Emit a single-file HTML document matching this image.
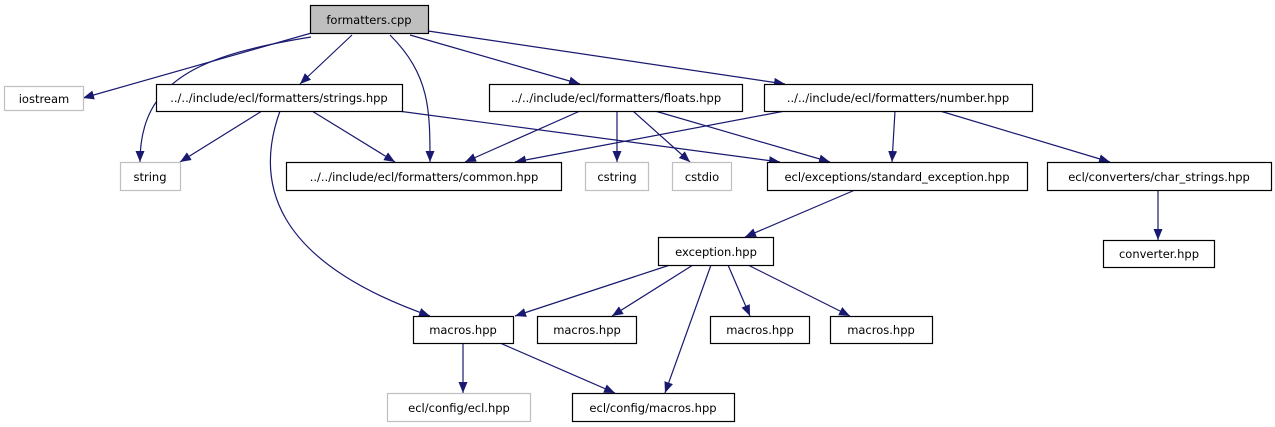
<!DOCTYPE html>
<html><head><meta charset="utf-8"><style>
html,body{margin:0;padding:0;background:#fff;}
svg{display:block;}
text{font-family:"DejaVu Sans","Liberation Sans",sans-serif;font-size:11.5px;fill:#000;text-anchor:middle;}
</style></head><body>
<svg width="1275" height="427" viewBox="0 0 1275 427" xmlns="http://www.w3.org/2000/svg">
<defs>
<marker id="a" markerUnits="userSpaceOnUse" markerWidth="12" markerHeight="10" refX="11" refY="5" orient="auto">
<path d="M0,0.5 L11,5 L0,9.5 z" fill="#191970"/>
</marker>
</defs>
<g stroke="#191970" stroke-width="1.2" fill="none" marker-end="url(#a)">
<path d="M315,32 L83,98"/>
<path d="M311,37 C200,55 140,80 140,162"/>
<path d="M352,35 L300,84"/>
<path d="M390,35 C430,75 430,110 430,162"/>
<path d="M410,35 L580,84"/>
<path d="M428,31 L785,84"/>
<path d="M262,111 L180,162"/>
<path d="M312,111 L395,162"/>
<path d="M280,111 C255,180 270,260 430,316"/>
<path d="M398,111 L780,162"/>
<path d="M580,111 L465,162"/>
<path d="M617,111 L617,162"/>
<path d="M633,111 L690,162"/>
<path d="M655,111 L830,162"/>
<path d="M785,111 L515,162"/>
<path d="M895,111 L892,162"/>
<path d="M940,111 L1110,162"/>
<path d="M1158,190 L1158,240"/>
<path d="M855,190 L745,237"/>
<path d="M670,265 L515,316"/>
<path d="M693,265 L612,316"/>
<path d="M728,265 L750,316"/>
<path d="M748,265 L850,316"/>
<path d="M711,265 L665,393"/>
<path d="M463,343 L463,393"/>
<path d="M500,343 L615,393"/>
</g>
<g stroke-width="1.2">
<rect x="310.5" y="5.5" width="118" height="28" fill="#bfbfbf" stroke="#000"/>
<rect x="4.5" y="86.5" width="79" height="24" fill="#fff" stroke="#bfbfbf"/>
<rect x="156.5" y="84.5" width="246" height="27" fill="#fff" stroke="#000"/>
<rect x="489.5" y="84.5" width="253" height="27" fill="#fff" stroke="#000"/>
<rect x="764.5" y="84.5" width="268" height="27" fill="#fff" stroke="#000"/>
<rect x="120.5" y="162.5" width="60" height="28" fill="#fff" stroke="#bfbfbf"/>
<rect x="286.5" y="162.5" width="275" height="28" fill="#fff" stroke="#000"/>
<rect x="585.5" y="162.5" width="63" height="28" fill="#fff" stroke="#bfbfbf"/>
<rect x="672.5" y="162.5" width="59" height="28" fill="#fff" stroke="#bfbfbf"/>
<rect x="767.5" y="162.5" width="260" height="28" fill="#fff" stroke="#000"/>
<rect x="1047.5" y="162.5" width="224" height="28" fill="#fff" stroke="#000"/>
<rect x="1103.5" y="240.5" width="111" height="27" fill="#fff" stroke="#000"/>
<rect x="658.5" y="237.5" width="115" height="28" fill="#fff" stroke="#000"/>
<rect x="413.5" y="316.5" width="100" height="27" fill="#fff" stroke="#000"/>
<rect x="537.5" y="316.5" width="99" height="27" fill="#fff" stroke="#000"/>
<rect x="710.5" y="316.5" width="99" height="27" fill="#fff" stroke="#000"/>
<rect x="830.5" y="316.5" width="102" height="27" fill="#fff" stroke="#000"/>
<rect x="387.5" y="393.5" width="143" height="28" fill="#fff" stroke="#bfbfbf"/>
<rect x="572.5" y="393.5" width="162" height="28" fill="#fff" stroke="#000"/>
</g>
<text x="369" y="24">formatters.cpp</text>
<text x="44" y="103">iostream</text>
<text x="279" y="102">../../include/ecl/formatters/strings.hpp</text>
<text x="616" y="102">../../include/ecl/formatters/floats.hpp</text>
<text x="898" y="102">../../include/ecl/formatters/number.hpp</text>
<text x="150" y="181">string</text>
<text x="424" y="181">../../include/ecl/formatters/common.hpp</text>
<text x="617" y="181">cstring</text>
<text x="702" y="181">cstdio</text>
<text x="897" y="181">ecl/exceptions/standard_exception.hpp</text>
<text x="1159" y="181">ecl/converters/char_strings.hpp</text>
<text x="1159" y="258">converter.hpp</text>
<text x="716" y="256">exception.hpp</text>
<text x="463" y="334">macros.hpp</text>
<text x="587" y="334">macros.hpp</text>
<text x="760" y="334">macros.hpp</text>
<text x="881" y="334">macros.hpp</text>
<text x="459" y="412">ecl/config/ecl.hpp</text>
<text x="653" y="412">ecl/config/macros.hpp</text>
</svg>
</body></html>
